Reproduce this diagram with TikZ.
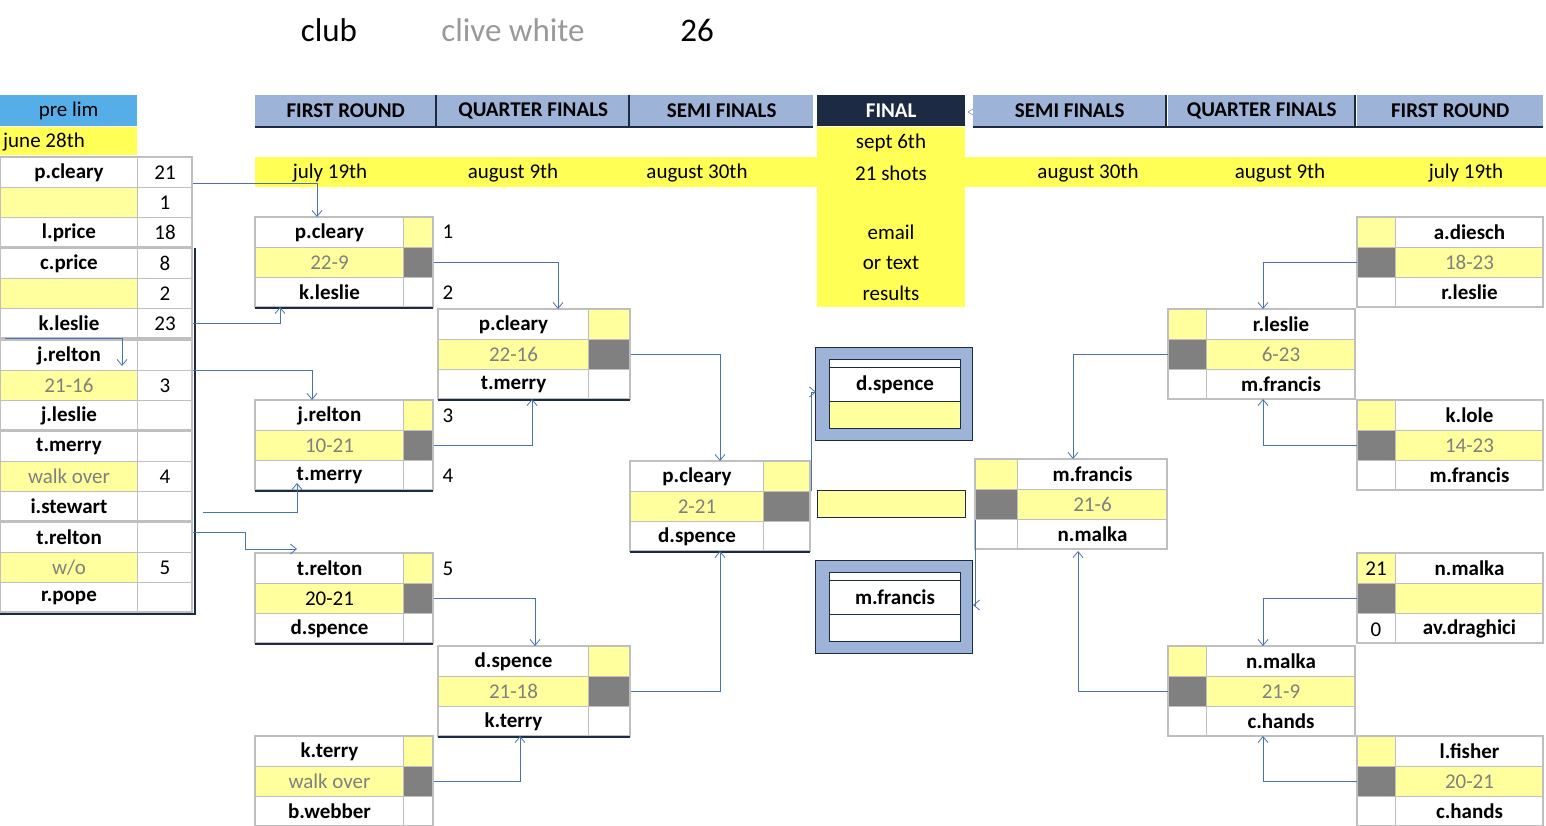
\documentclass[tikz,border=0pt]{standalone}
\usepackage{fontspec}
\setmainfont{Carlito}
\usetikzlibrary{arrows.meta}
\definecolor{paleyel}{HTML}{FFFF9E}
\definecolor{brightyel}{HTML}{FFFF55}
\definecolor{hdrblue}{HTML}{9DB3D7}
\definecolor{skyblue}{HTML}{56AEE8}
\definecolor{navy}{HTML}{1C2A44}
\definecolor{darkgr}{HTML}{808080}
\definecolor{gridgray}{HTML}{BFBFBF}
\definecolor{linkblue}{HTML}{4A72B0}
\tikzset{
  cell/.style={draw=gridgray,line width=1pt,minimum height=30pt,inner sep=0pt,
    anchor=north west,font=\bfseries\fontsize{21}{23}\selectfont},
  score/.style={font=\fontsize{21}{23}\selectfont,text=darkgr},
  hdr/.style={fill=hdrblue,minimum height=31pt,inner sep=0pt,anchor=north west,
    font=\bfseries\fontsize{21}{23}\selectfont},
  txt/.style={font=\fontsize{21}{23}\selectfont,inner sep=0pt},
  frame/.style={draw=gridgray,line width=2pt},
  link/.style={draw=linkblue,line width=0.8pt,-{Straight Barb[length=6pt,width=10pt]}}
}
% left-hand match: id, x, y, name width, small width, top, score, bottom
\newcommand\lmatch[8]{%
  \node[cell,minimum width=#4] (#1t) at (#2,#3) {#6};
  \node[cell,fill=paleyel,minimum width=#5] (#1y) at ({#2+#4},#3) {};
  \node[cell,fill=paleyel,minimum width=#4,score] (#1s) at (#2,{#3+30}) {#7};
  \node[cell,fill=darkgr,minimum width=#5] (#1g) at ({#2+#4},{#3+30}) {};
  \node[cell,minimum width=#4] (#1b) at (#2,{#3+60}) {#8};
  \node[cell,minimum width=#5] (#1w) at ({#2+#4},{#3+60}) {};
  \draw[frame] (#2,#3) rectangle ({#2+#4+#5},{#3+90});
  \draw[navy,line width=1.5pt] (#2,{#3+91}) -- ({#2+#4+#5},{#3+91});
}
% right-hand match: id, x, y, small width, name width, top, score, bottom
\newcommand\rmatch[8]{%
  \node[cell,fill=paleyel,minimum width=#4] (#1y) at (#2,#3) {};
  \node[cell,minimum width=#5] (#1t) at ({#2+#4},#3) {#6};
  \node[cell,fill=darkgr,minimum width=#4] (#1g) at (#2,{#3+30}) {};
  \node[cell,fill=paleyel,minimum width=#5,score] (#1s) at ({#2+#4},{#3+30}) {#7};
  \node[cell,minimum width=#4] (#1w) at (#2,{#3+60}) {};
  \node[cell,minimum width=#5] (#1b) at ({#2+#4},{#3+60}) {#8};
  \draw[frame] (#2,#3) rectangle ({#2+#4+#5},{#3+90});
}
% prelim: id, y, top, n1, score, n2, bottom, n3
\newcommand\pmatch[8]{%
  \node[cell,minimum width=137pt] (#1t) at (0,#2) {#3};
  \node[cell,minimum width=55pt,font=\fontsize{21}{23}\selectfont] (#1p) at (137,#2) {#4};
  \node[cell,fill=paleyel,minimum width=137pt,score] (#1s) at (0,{#2+30}) {#5};
  \node[cell,minimum width=55pt,font=\fontsize{21}{23}\selectfont] (#1n) at (137,{#2+30}) {#6};
  \node[cell,minimum width=137pt] (#1b) at (0,{#2+60}) {#7};
  \node[cell,minimum width=55pt,font=\fontsize{21}{23}\selectfont] (#1q) at (137,{#2+60}) {#8};
  \draw[frame] (0,#2) rectangle (192,{#2+90});
}
\begin{document}
\begin{tikzpicture}[x=1pt,y=-1pt]
\useasboundingbox (0,0) rectangle (1546,826);
% title line
\node[txt,font=\fontsize{33}{36}\selectfont] (club) at (329,30) {club};
\node[txt,font=\fontsize{33}{36}\selectfont,text=gridgray!80!black] (who) at (513,30) {clive white};
\node[txt,font=\fontsize{33}{36}\selectfont] (num) at (697,30) {26};
% headers
\node[hdr,fill=skyblue,font=\fontsize{21}{23}\selectfont,minimum width=137pt] (pre) at (0,95) {pre lim};
\fill[brightyel] (0,127) rectangle (137,155);
\node[txt,anchor=west] (june) at (3,142) {june 28th};
\fill[brightyel] (255,157) rectangle (1546,187);
\fill[brightyel] (817,127) rectangle (965,307);
\node[hdr,minimum width=181pt] (h1) at (255,95) {FIRST ROUND};
\node[hdr,minimum width=192pt] (h2) at (437,95) {QUARTER FINALS};
\node[hdr,minimum width=183pt] (h3) at (630,95) {SEMI FINALS};
\node[hdr,fill=navy,text=white,minimum width=148pt] (h4) at (817,95) {FINAL};
\node[hdr,minimum width=193pt] (h5) at (973,95) {SEMI FINALS};
\node[hdr,minimum width=187pt] (h6) at (1168,95) {QUARTER FINALS};
\node[hdr,minimum width=186pt] (h7) at (1357,95) {FIRST ROUND};
\draw[navy,line width=1.5pt] (255,127) -- (813,127) (973,127) -- (1543,127);
\foreach \x in {436,629,1166,1355} \draw[navy,line width=1.5pt] (\x,95) -- (\x,127);
\draw[linkblue] (973,109) -- (968,112) -- (973,115);
% dates
\foreach \x/\t in {330/july 19th,513/august 9th,697/august 30th,891/21 shots,1088/august 30th,1280/august 9th,1466/july 19th}
  \node[txt] at (\x,173) {\t};
\foreach \y/\t in {143/sept 6th,232/email,263/or text,293/results}
  \node[txt] at (891,\y) {\t};
% prelims
\pmatch{pa}{157}{p.cleary}{21}{}{1}{l.price}{18}
\pmatch{pb}{248}{c.price}{8}{}{2}{k.leslie}{23}
\pmatch{pc}{340}{j.relton}{}{21-16}{3}{j.leslie}{}
\pmatch{pd}{431}{t.merry}{}{walk over}{4}{i.stewart}{}
\pmatch{pe}{522}{t.relton}{}{w/o}{5}{r.pope}{}
\draw[navy,line width=1.5pt] (195,248) -- (195,614) -- (0,614);
% left bracket
\lmatch{fa}{255}{217}{148}{30}{p.cleary}{22-9}{k.leslie}
\lmatch{fb}{255}{400}{148}{30}{j.relton}{10-21}{t.merry}
\lmatch{fc}{255}{553}{148}{30}{t.relton}{\textcolor{black}{20-21}}{d.spence}
\lmatch{fd}{255}{736}{148}{30}{k.terry}{walk over}{b.webber}
\lmatch{qa}{438}{309}{150}{42}{p.cleary}{22-16}{t.merry}
\lmatch{qb}{438}{646}{150}{42}{d.spence}{21-18}{k.terry}
\lmatch{sa}{630}{461}{133}{47}{p.cleary}{2-21}{d.spence}
\foreach \x/\y/\t in {448/232/1,448/293/2,448/416/3,448/476/4,448/569/5}
  \node[txt] at (\x,\y) {\t};
% right bracket
\rmatch{ra}{1357}{217}{38}{148}{a.diesch}{18-23}{r.leslie}
\rmatch{rb}{1357}{400}{38}{148}{k.lole}{14-23}{m.francis}
\rmatch{rc}{1357}{553}{38}{148}{n.malka}{}{av.draghici}
\node[txt] at (1376,569) {21};
\node[txt] at (1376,630) {0};
\rmatch{rd}{1357}{736}{38}{148}{l.fisher}{20-21}{c.hands}
\rmatch{qc}{1168}{309}{38}{149}{r.leslie}{6-23}{m.francis}
\rmatch{qd}{1168}{646}{38}{149}{n.malka}{21-9}{c.hands}
\rmatch{sb}{975}{459}{42}{150}{m.francis}{21-6}{n.malka}
% final
\draw[navy,fill=hdrblue,line width=1pt] (815,347) rectangle (972,440);
\node[cell,draw=navy,fill=white,minimum width=131pt,minimum height=8pt] (fxa) at (829,359) {};
\node[cell,draw=navy,minimum width=131pt,minimum height=34pt,fill=white] (fna) at (829,367) {d.spence};
\node[cell,draw=navy,fill=paleyel,minimum width=131pt,minimum height=27pt] (fya) at (829,401) {};
\draw[navy,fill=hdrblue,line width=1pt] (815,560) rectangle (972,653);
\node[cell,draw=navy,fill=white,minimum width=131pt,minimum height=8pt] (fxb) at (829,572) {};
\node[cell,draw=navy,minimum width=131pt,minimum height=34pt,fill=white] (fnb) at (829,580) {m.francis};
\node[cell,draw=navy,fill=white,minimum width=131pt,minimum height=27pt] (fyb) at (829,614) {};
\node[cell,draw=navy,fill=paleyel,minimum width=148pt,minimum height=27pt] (mid) at (817,490) {};
% connectors
\coordinate (c1) at (317,217); \coordinate (c2) at (280,307);
\coordinate (c3) at (122,366); \coordinate (c4) at (312,400);
\coordinate (c5) at (297,483); \coordinate (c6) at (297,549);
\coordinate (c7) at (558,309); \coordinate (c8) at (532,399);
\coordinate (c9) at (535,646); \coordinate (c10) at (520,736);
\coordinate (c11) at (720,461); \coordinate (c12) at (720,551);
\coordinate (c13) at (816,392); \coordinate (c14) at (973,605);
\coordinate (c15) at (1073,459); \coordinate (c16) at (1078,551);
\coordinate (c17) at (1263,309); \coordinate (c18) at (1263,399);
\coordinate (c19) at (1263,646); \coordinate (c20) at (1263,736);
\draw[link] (pap.east |- 0,183) -| (c1);
\draw[link] (pbq.east) -| (c2);
\draw[link] (5,338) -| (c3);
\draw[link] (pcn.north east) -| (c4);
\draw[link] (203,512) -| (c5);
\draw[link] (pet.north -| pen.east) ++(0,10) -- (245,532) |- (c6);
\draw[link] (fag.east) -| (c7);
\draw[link] (fbg.east) -| (c8);
\draw[link] (fcg.east) -| (c9);
\draw[link] (fdg.east) -| (c10);
\draw[link] (qag.east) -| (c11);
\draw[link] (qbg.east) -| (c12);
\draw[link] (sag.north east) |- (c13);
\draw[link] (sbg.south west) |- (c14);
\draw[link] (qcg.west) -| (c15);
\draw[link] (qdg.west) -| (c16);
\draw[link] (rag.west) -| (c17);
\draw[link] (rbg.west) -| (c18);
\draw[link] (rcg.west) -| (c19);
\draw[link] (rdg.west) -| (c20);
\end{tikzpicture}
\end{document}
